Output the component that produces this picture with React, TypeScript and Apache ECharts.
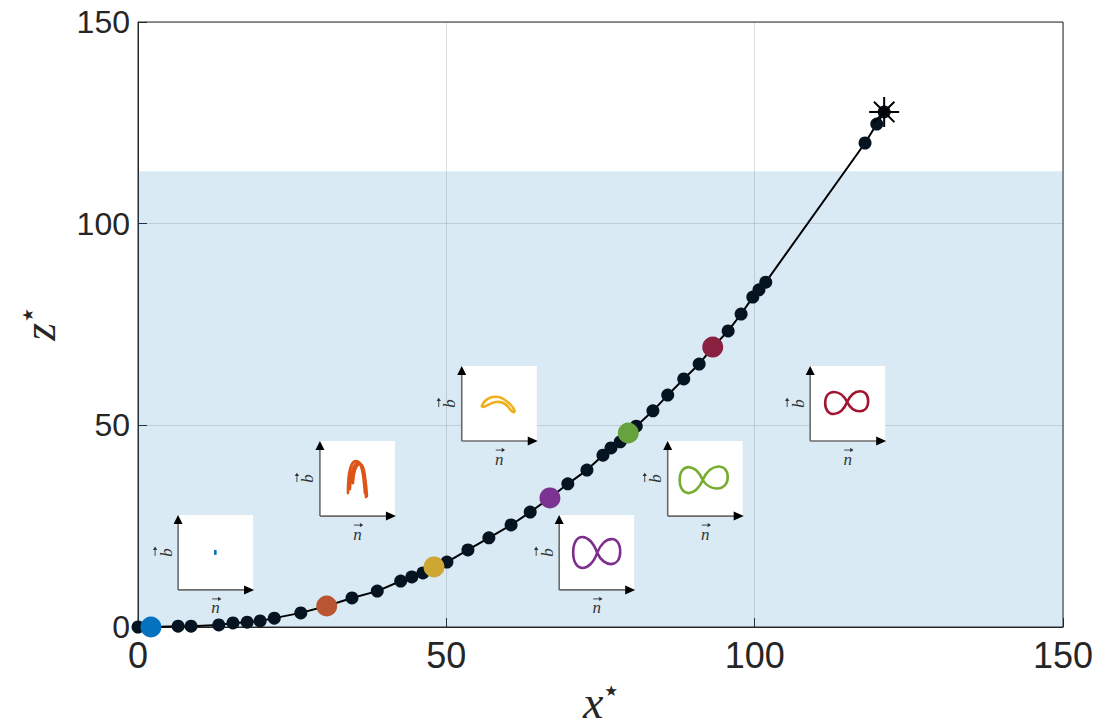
import React, { useEffect, useRef } from "react";
import * as echarts from "echarts";

// ---- data ----
const pathX = [0, 2.1, 6.5, 8.6, 13.1, 15.4, 17.7, 19.8, 22.1, 26.4, 30.6, 34.7, 38.8, 42.6, 44.4, 46.2, 48.0, 50.1, 53.5, 56.9, 60.5, 63.6, 66.8, 69.7, 72.8, 75.4, 76.7, 78.2, 79.5, 80.8, 83.5, 85.9, 88.5, 91.0, 93.2, 95.7, 97.8, 99.7, 100.7, 101.8, 117.9, 119.8, 121.0];
const pathZ = [0, 0, 0.2, 0.2, 0.5, 1.0, 1.2, 1.5, 2.2, 3.5, 5.2, 7.2, 8.9, 11.4, 12.4, 13.4, 14.9, 16.1, 19.1, 22.1, 25.3, 28.5, 32.0, 35.5, 38.9, 42.6, 44.4, 45.9, 48.1, 49.8, 53.6, 57.5, 61.5, 65.2, 69.4, 73.4, 77.6, 81.8, 83.6, 85.5, 120.0, 124.7, 127.7];

const highlightX = [2.1, 30.6, 48.0, 66.8, 79.5, 93.2];
const highlightZ = [0, 5.2, 14.9, 32.0, 48.1, 69.4];
const highlightColors = ["#0572BF", "#B95631", "#CEA634", "#7B3590", "#66A23D", "#8B2141"];
const glyphColors = ["#0072BD", "#DD5418", "#EDB120", "#7E2F8E", "#77AC30", "#A2142F"];

const endX = [121.0];
const endZ = [127.7];

const shadeTop = 113;

// inset anchors (bottom-left corner of each inset box, data units)
const insetX = [6.5, 29.5, 52.5, 68.3, 85.9, 109.0];
const insetZ = [9.2, 27.5, 46.1, 9.2, 27.5, 46.1];

// ---- glyph drawing helpers (local inset coordinates, 75x75 box) ----
function eightPath(cx: number, cy: number, l: number, t1: number, b1: number, r: number, t2: number, b2: number) {
  const w2 = r - cx, w1 = cx - l;
  const m2 = (t2 + b2) / 2, m1 = (t1 + b1) / 2;
  const ct2 = m2 - ((m2 - t2) * 4) / 3, cb2 = m2 + ((b2 - m2) * 4) / 3;
  const ct1 = m1 - ((m1 - t1) * 4) / 3, cb1 = m1 + ((b1 - m1) * 4) / 3;
  return `M${cx} ${cy} C${cx + 0.3 * w2} ${ct2} ${r} ${ct2} ${r} ${m2} C${r} ${cb2} ${cx + 0.3 * w2} ${cb2} ${cx} ${cy} C${cx - 0.3 * w1} ${ct1} ${l} ${ct1} ${l} ${m1} C${l} ${cb1} ${cx - 0.3 * w1} ${cb1} ${cx} ${cy} Z`;
}

const glyphPaths: (string | null)[] = [
  null,
  "M28 52 C28 36 30 20 36 20 C43 20 46 36 47 55 M30 48 C31 31 34 22 38 22 C43 22 44 40 45 52 M33 42 C34 28 37 22 41 23 C45 25 46 42 46 56",
  "M20 40 C24 31 33 29 40 32 C46 35 52 41 53 45 C53 47 50 46 48 43 C45 38 40 35 34 36 C28 37 24 41 21 41 Z",
  eightPath(38, 38, 14, 22, 53, 61, 24, 49),
  eightPath(35, 39, 12, 26, 52, 60, 25, 47),
  eightPath(37, 36, 15, 26, 48, 58, 25, 45),
];

glyphPaths.forEach((d, i) => {
  if (d) echarts.graphic.registerShape("glyph" + i, echarts.graphic.extendPath(d, {}) as any);
});

const BOX = 75;
const Z = 20;

function smallArrow(x: number, y: number) {
  return [
    { type: "line", z: Z, shape: { x1: x - 4.5, y1: y, x2: x + 3.5, y2: y }, style: { stroke: "#333", lineWidth: 0.9 } },
    { type: "polygon", z: Z, shape: { points: [[x + 1.5, y - 2.2], [x + 4.8, y], [x + 1.5, y + 2.2]] }, style: { fill: "#333" } },
  ];
}

function insetElements(px: number, py: number, i: number) {
  const children: any[] = [
    { type: "rect", z: Z, shape: { x: 0, y: 0, width: BOX, height: BOX }, style: { fill: "#ffffff" } },
  ];
  if (i === 0) {
    children.push({ type: "rect", z: Z, shape: { x: 36, y: 35, width: 2.5, height: 5 }, style: { fill: glyphColors[0] } });
  } else {
    children.push({
      type: "glyph" + i,
      z: Z,
      x: 0,
      y: 0,
      style: { fill: "none", stroke: glyphColors[i], lineWidth: 2.6, lineJoin: "round", lineCap: "round" },
    });
  }
  children.push(
    { type: "line", z: Z, shape: { x1: 0, y1: BOX, x2: 0, y2: 8 }, style: { stroke: "#6b6b6b", lineWidth: 1.6 } },
    { type: "line", z: Z, shape: { x1: 0, y1: BOX, x2: BOX - 8, y2: BOX }, style: { stroke: "#6b6b6b", lineWidth: 1.6 } },
    { type: "polygon", z: Z, shape: { points: [[-4.5, 9], [4.5, 9], [0, 0]] }, style: { fill: "#000" } },
    { type: "polygon", z: Z, shape: { points: [[BOX - 9, BOX - 4.5], [BOX - 9, BOX + 4.5], [BOX + 1, BOX]] }, style: { fill: "#000" } },
    {
      type: "text",
      z: Z,
      x: BOX / 2,
      y: BOX + 18,
      style: { text: "n", font: "italic 17px 'Liberation Serif', serif", fill: "#333", align: "center", verticalAlign: "middle" },
    },
    ...smallArrow(BOX / 2 + 1, BOX + 9),
    {
      type: "group",
      x: -13,
      y: BOX / 2,
      rotation: Math.PI / 2,
      children: [
        {
          type: "text",
          z: Z,
          x: 0,
          y: 1,
          style: { text: "b", font: "italic 17px 'Liberation Serif', serif", fill: "#333", align: "center", verticalAlign: "middle" },
        },
        ...smallArrow(1, -10),
      ],
    }
  );
  return { type: "group", x: px, y: py - BOX, children };
}

export default function App() {
  const ref = useRef<HTMLDivElement>(null);
  useEffect(() => {
    document.body.style.margin = "0";
    const chart = echarts.init(ref.current!, null, { renderer: "svg" });
    const nameRich = {
      v: { fontSize: 46, lineHeight: 46, fontStyle: "italic", fontFamily: "'Liberation Serif', serif", color: "#262626" },
      s: { fontSize: 15, lineHeight: 16, fontFamily: "'DejaVu Sans', sans-serif", color: "#262626", padding: [0, 0, 22, 1] },
    };
    const axisCommon = {
      type: "value",
      min: 0,
      max: 150,
      interval: 50,
      axisLine: { show: true, lineStyle: { color: "#262626", width: 1 } },
      axisTick: { show: true, inside: true, length: 9, lineStyle: { color: "#262626" } },
      splitLine: { show: true, lineStyle: { color: "rgba(38,38,38,0.15)", width: 1 } },
    };
    chart.setOption({
      animation: false,
      backgroundColor: "#ffffff",
      grid: {
        left: 138,
        top: 22,
        width: 925,
        height: 605,
        show: true,
        borderColor: "#262626",
        borderWidth: 1,
        backgroundColor: "transparent",
        containLabel: false,
        outerBoundsMode: "none",
      },
      xAxis: {
        ...axisCommon,
        axisLabel: { fontSize: 36, color: "#262626", margin: 10, fontFamily: "'Liberation Sans', Arial, sans-serif" },
        name: "{v|x}{s|★}",
        nameLocation: "middle",
        nameGap: 52,
        nameTextStyle: { rich: nameRich },
      },
      yAxis: {
        ...axisCommon,
        axisLabel: { fontSize: 32, color: "#262626", margin: 8, fontFamily: "'Liberation Sans', Arial, sans-serif" },
        name: "{v|z}{s|★}",
        nameLocation: "middle",
        nameRotate: 90,
        nameGap: 76,
        nameTextStyle: { rich: nameRich },
      },
      series: [
        {
          type: "line",
          data: pathX.map((x, i) => [x, pathZ[i]]),
          symbol: "circle",
          symbolSize: 13,
          showSymbol: true,
          lineStyle: { color: "#000000", width: 2 },
          itemStyle: { color: "#061421", opacity: 1 },
          z: 3,
          markArea: {
            silent: true,
            itemStyle: { color: "rgba(0,114,189,0.15)" },
            data: [[{ coord: [0, 0] }, { coord: [150, shadeTop] }]],
          },
        },
        {
          type: "scatter",
          data: highlightX.map((x, i) => ({ value: [x, highlightZ[i]], itemStyle: { color: highlightColors[i], opacity: 1 } })),
          symbolSize: 21,
          itemStyle: { opacity: 1 },
          z: 4,
        },
        {
          type: "scatter",
          data: endX.map((x, i) => [x, endZ[i]]),
          symbol: "path://M10 0 L10 20 M0 10 L20 10 M3.2 3.2 L16.8 16.8 M3.2 16.8 L16.8 3.2",
          symbolSize: 30,
          itemStyle: { color: "none", borderColor: "#000000", borderWidth: 2, opacity: 1 },
          z: 5,
        },
      ],
    });
    const graphics = insetX.map((x, i) => {
      const p = chart.convertToPixel({ gridIndex: 0 }, [x, insetZ[i]]) as number[];
      return insetElements(p[0], p[1], i);
    });
    chart.setOption({ graphic: graphics });
    return () => chart.dispose();
  }, []);
  return <div ref={ref} style={{ width: 1099, height: 726, overflow: "hidden" }} />;
}
